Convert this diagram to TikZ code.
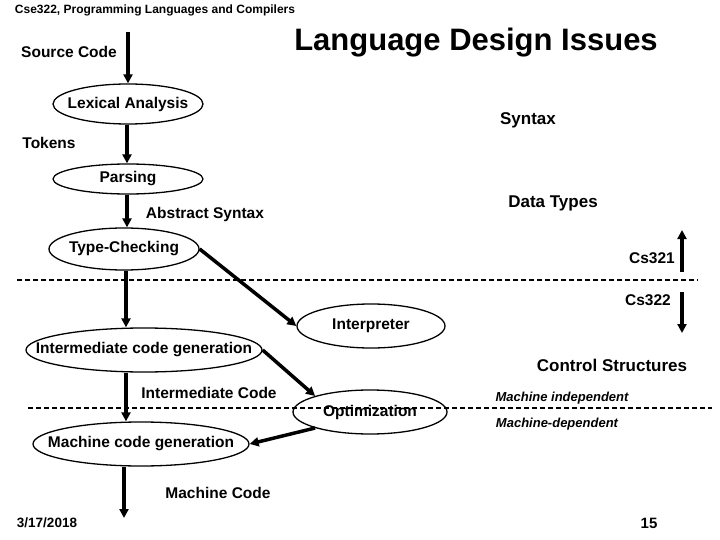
\documentclass[tikz,border=0pt]{standalone}
\usepackage{fontspec}
\setmainfont{Liberation Sans}
\usetikzlibrary{shapes.geometric,arrows.meta}
\begin{document}
\begin{tikzpicture}[x=1pt,y=-1pt,
  font=\bfseries,
  lbl/.style={font=\fontsize{15.5}{17}\selectfont\bfseries,inner sep=0pt},
  rlbl/.style={font=\fontsize{17}{19}\selectfont\bfseries,inner sep=0pt},
  ilbl/.style={font=\fontsize{13}{15}\selectfont\bfseries\itshape,inner sep=0pt},
  stage/.style={ellipse,draw,line width=1.3pt,inner sep=0pt,font=\fontsize{15.5}{17}\selectfont\bfseries},
  flow/.style={line width=3.5pt,-{Triangle[length=9pt,width=9pt]}},
  divider/.style={line width=1.4pt,dash pattern=on 5pt off 3pt}]
\useasboundingbox (0,0) rectangle (720,540);
% title texts
\node[font=\fontsize{12}{14}\selectfont\bfseries,inner sep=0pt] (hdr) at (155,10) {Cse322, Programming Languages and Compilers};
\node[font=\fontsize{31}{33}\selectfont\bfseries,inner sep=0pt] (title) at (476,43) {Language Design Issues};
% stages
\node[stage,minimum width=150pt,minimum height=40pt] (lex) at (128,104) {\makebox[0pt]{Lexical Analysis}};
\node[stage,minimum width=150pt,minimum height=30pt] (pars) at (128,179) {\makebox[0pt]{Parsing}};
\node[stage,minimum width=150pt,minimum height=42pt] (tc) at (124,249) {\makebox[0pt]{Type-Checking}};
\node[stage,minimum width=148pt,minimum height=44pt] (interp) at (371,326) {\makebox[0pt]{Interpreter}};
\node[stage,minimum width=236pt,minimum height=44pt] (icg) at (144,350) {\makebox[0pt]{Intermediate code generation}};
\node[stage,minimum width=154pt,minimum height=44pt] (opt) at (370,412) {\raisebox{-2pt}{\makebox[0pt]{Optimization}}};
\node[stage,minimum width=216pt,minimum height=44pt] (mcg) at (141,444) {\makebox[0pt]{Machine code generation}};
% labels
\node[lbl] (src) at (69,52) {Source Code};
\node[lbl] (tok) at (49,143) {Tokens};
\node[lbl] (abs) at (205,214) {Abstract Syntax};
\node[lbl] (ic) at (209,393) {Intermediate Code};
\node[lbl] (mc) at (218,493) {Machine Code};
\node[font=\fontsize{13.5}{15}\selectfont\bfseries,inner sep=0pt] (date) at (47,523) {3/17/2018};
\node[font=\fontsize{15}{17}\selectfont\bfseries,inner sep=0pt] (pg) at (649,523) {15};
\node[rlbl] (syn) at (528,120) {Syntax};
\node[rlbl] (dt) at (553,203) {Data Types};
\node[lbl] (cs1) at (652,258) {Cs321};
\node[lbl] (cs2) at (648,300) {Cs322};
\node[rlbl] (cs) at (612,365) {Control Structures};
\node[ilbl] (mi) at (562,398) {Machine independent};
\node[ilbl] (md) at (557,424) {Machine-dependent};
% free ends
\coordinate (s0) at (128,32);
\coordinate (col) at (127,0);
\coordinate (col2) at (126,0);
\coordinate (m1) at (124,518);
\coordinate (u0) at (682,272);
\coordinate (u1) at (682,230);
\coordinate (w0) at (682,292);
\coordinate (w1) at (682,333);
\coordinate (d1a) at (17,280);
\coordinate (d1b) at (698,280);
\coordinate (d2a) at (28,408);
\coordinate (d2b) at (712,408);
% connectors
\draw[flow] (s0) -- (lex.north);
\draw[flow] (lex.south -| col) -- (pars.north -| col);
\draw[flow] (pars.south -| col) -- (tc.north -| col);
\draw[flow] (tc.south -| col2) -- (icg.north -| col2);
\draw[flow] (tc.east) -- (interp.west);
\draw[flow] (icg.east) -- (opt.north west);
\draw[flow] (icg.south -| col2) -- (mcg.north -| col2);
\draw[flow] (opt.south west) -- (mcg.east);
\draw[flow] (mcg.south -| m1) -- (m1);
\draw[flow] (u0) -- (u1);
\draw[flow] (w0) -- (w1);
% dividers
\draw[divider] (d1a) -- (d1b);
\draw[divider] (d2a) -- (d2b);
\end{tikzpicture}
\end{document}
